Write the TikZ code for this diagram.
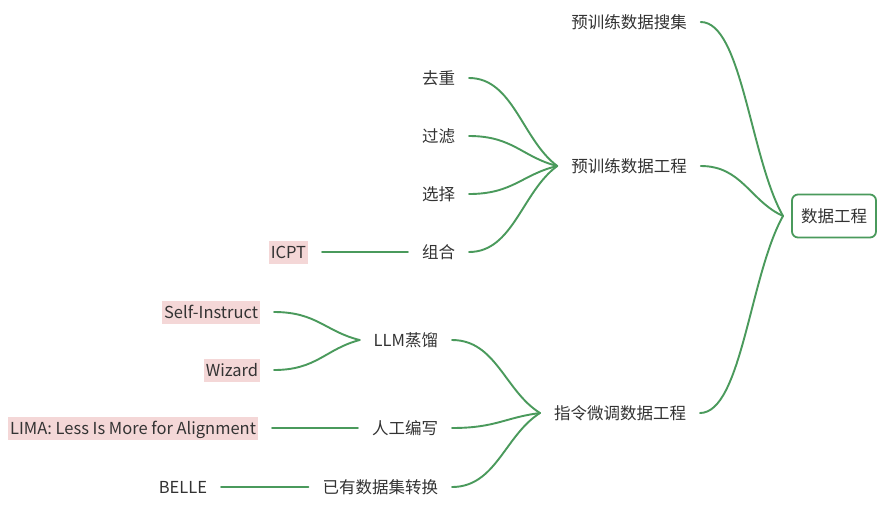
\documentclass[tikz,border=0pt]{standalone}
\usepackage{fontspec}
\setmainfont{Noto Sans CJK SC}
\usetikzlibrary{calc}
\definecolor{edge}{HTML}{4A9A5C}
\definecolor{hl}{HTML}{F4D7D7}
\definecolor{txt}{HTML}{333333}
\tikzset{
  lbl/.style={inner sep=0pt, outer xsep=14pt, text=txt, font=\fontsize{16.5}{20}\selectfont, text height=14pt, text depth=2pt},
  hlbl/.style={lbl, fill=hl, inner xsep=2pt, inner ysep=3.5pt, outer xsep=14pt},
  rootbox/.style={draw=edge, line width=1.8pt, rounded corners=6pt, text=txt, font=\fontsize{16.5}{20}\selectfont, minimum width=84pt, minimum height=43pt, inner sep=0pt, outer xsep=9pt, text height=14pt, text depth=2pt},
  branch/.style={draw=edge, line width=1.9pt, line cap=round, to path={let \p1=(\tikztostart), \p2=(\tikztotarget) in .. controls ({\x1+0.5*(\x2-\x1)},\y1) and ({\x1+0.6*(\x2-\x1)},{\y2-0.3*(\y2-\y1)}) .. (\tikztotarget)}}
}
\begin{document}
\begin{tikzpicture}[x=1pt,y=-1pt]
\useasboundingbox (0,0) rectangle (879,507);
\fill[white] (0,0) rectangle (879,507);
\node[rootbox] (root) at (834,216) {数据工程};
\node[lbl] (pc) at (629,22) {预训练数据搜集};
\node[lbl] (pe) at (629,166) {预训练数据工程};
\node[lbl] (ie) at (620,413) {指令微调数据工程};
\node[lbl, anchor=east] (qc) at (469,78) {去重};
\node[lbl, anchor=east] (gl) at (469,136) {过滤};
\node[lbl, anchor=east] (xz) at (469,194) {选择};
\node[lbl, anchor=east] (zh) at (469,252) {组合};
\node[hlbl, anchor=east] (icpt) at (322,252) {ICPT};
\node[lbl, anchor=east] (llm) at (452,340) {LLM蒸馏};
\node[lbl, anchor=east] (rg) at (452,428) {人工编写};
\node[lbl, anchor=east] (yy) at (452,487) {已有数据集转换};
\node[hlbl, anchor=east] (si) at (274,312) {Self-Instruct};
\node[hlbl, anchor=east] (wz) at (274,370) {Wizard};
\node[hlbl, anchor=east] (lima) at (272,428) {LIMA: Less Is More for Alignment};
\node[lbl, anchor=east] (belle) at (221,487) {BELLE};
\draw[branch] (pc.east) to (root.west);
\draw[branch] (pe.east) to (root.west);
\draw[branch] (ie.east) to (root.west);
\draw[branch] (qc.east) to (pe.west);
\draw[branch] (gl.east) to (pe.west);
\draw[branch] (xz.east) to (pe.west);
\draw[branch] (zh.east) to (pe.west);
\draw[branch] (icpt.east) to (zh.west);
\draw[branch] (llm.east) to (ie.west);
\draw[branch] (rg.east) to (ie.west);
\draw[branch] (yy.east) to (ie.west);
\draw[branch] (si.east) to (llm.west);
\draw[branch] (wz.east) to (llm.west);
\draw[branch] (lima.east) to (rg.west);
\draw[branch] (belle.east) to (yy.west);
\end{tikzpicture}
\end{document}
